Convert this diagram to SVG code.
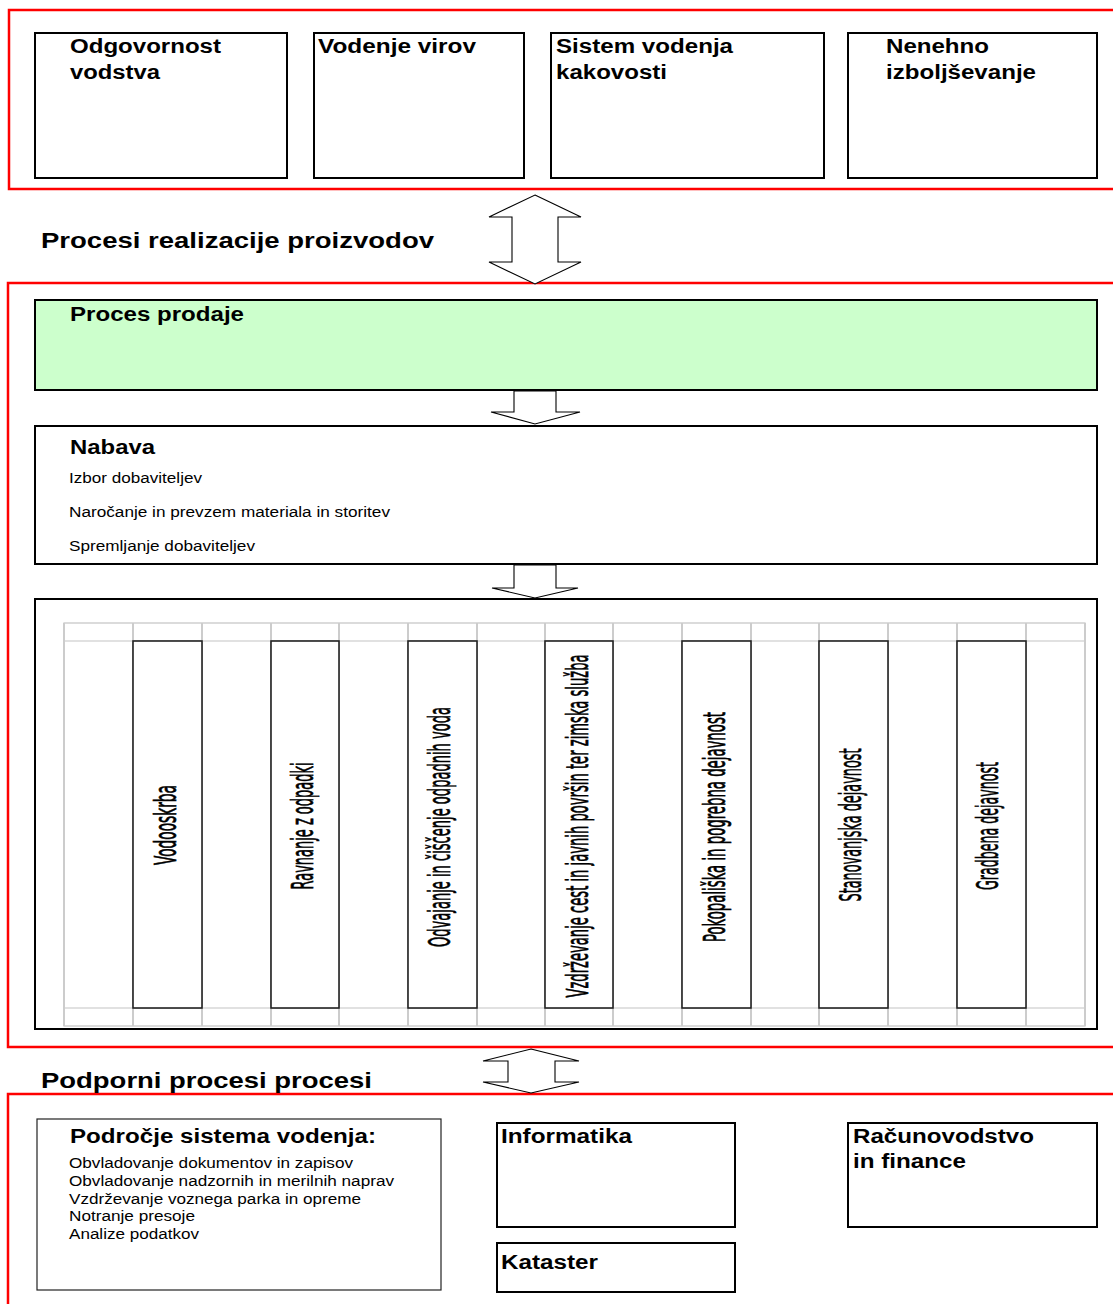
<svg xmlns="http://www.w3.org/2000/svg" width="1113" height="1304" viewBox="0 0 1113 1304">
<style>
.red{fill:none;stroke:#FF0000;stroke-width:2.5}
.box{fill:#FFFFFF;stroke:#000000;stroke-width:2}
.thin{fill:#FFFFFF;stroke:#222222;stroke-width:1.2}
.grid{fill:none;stroke:#CCCCCC;stroke-width:2}
.gridh{fill:none;stroke:#C4C4C4;stroke-width:1.2}
.col{fill:#FFFFFF;stroke:#222222;stroke-width:1.6}
.arrow{fill:#FFFFFF;stroke:#000000;stroke-width:1.1;stroke-linejoin:miter}
.b{font-family:"Liberation Sans",Arial,sans-serif;font-weight:bold;font-size:20px;fill:#000}
.h{font-family:"Liberation Sans",Arial,sans-serif;font-weight:bold;font-size:22px;fill:#000}
.r{font-family:"Liberation Sans",Arial,sans-serif;font-size:14px;fill:#000}
.v{font-family:"Liberation Sans Narrow","DejaVu Sans Condensed","Liberation Sans",sans-serif;font-stretch:condensed;font-size:31px;fill:#000;stroke:#000;stroke-width:0.7;text-anchor:middle}
</style>
<rect width="1113" height="1304" fill="#FFFFFF"/>

<g id="frames">
<path class="red" d="M1113,10 H9 V189 H1113"/>
<path class="red" d="M1113,283 H8 V1047 H1113"/>
<path class="red" d="M1113,1094 H8 V1304"/>
</g>

<g id="node-odgovornost">
<rect class="box" x="35" y="33" width="252" height="145"/>
<text class="b" x="70" y="53" textLength="151" lengthAdjust="spacingAndGlyphs">Odgovornost</text>
<text class="b" x="70" y="79" textLength="90" lengthAdjust="spacingAndGlyphs">vodstva</text>
</g>
<g id="node-vodenje-virov">
<rect class="box" x="314" y="33" width="210" height="145"/>
<text class="b" x="318" y="53" textLength="158" lengthAdjust="spacingAndGlyphs">Vodenje virov</text>
</g>
<g id="node-sistem">
<rect class="box" x="551" y="33" width="273" height="145"/>
<text class="b" x="556" y="53" textLength="177" lengthAdjust="spacingAndGlyphs">Sistem vodenja</text>
<text class="b" x="556" y="79" textLength="111" lengthAdjust="spacingAndGlyphs">kakovosti</text>
</g>
<g id="node-nenehno">
<rect class="box" x="848" y="33" width="249" height="145"/>
<text class="b" x="886" y="53" textLength="103" lengthAdjust="spacingAndGlyphs">Nenehno</text>
<text class="b" x="886" y="79" textLength="150" lengthAdjust="spacingAndGlyphs">izboljševanje</text>
</g>

<g id="label-realizacija">
<text class="h" x="41" y="248" textLength="393" lengthAdjust="spacingAndGlyphs">Procesi realizacije proizvodov</text>
</g>

<g id="node-prodaja">
<rect x="35" y="300" width="1062" height="90" fill="#CCFFCC" stroke="#000" stroke-width="2"/>
<text class="b" x="70" y="321" textLength="174" lengthAdjust="spacingAndGlyphs">Proces prodaje</text>
</g>

<g id="node-nabava">
<rect class="box" x="35" y="426" width="1062" height="138"/>
<text class="b" x="70" y="454" textLength="85" lengthAdjust="spacingAndGlyphs">Nabava</text>
<text class="r" x="69" y="483" textLength="133" lengthAdjust="spacingAndGlyphs">Izbor dobaviteljev</text>
<text class="r" x="69" y="517" textLength="321" lengthAdjust="spacingAndGlyphs">Naročanje in prevzem materiala in storitev</text>
<text class="r" x="69" y="551" textLength="186" lengthAdjust="spacingAndGlyphs">Spremljanje dobaviteljev</text>
</g>

<g id="node-dejavnosti">
<rect class="box" x="35" y="599" width="1062" height="430"/>
<rect class="gridh" x="64" y="623" width="1021" height="403"/>
<path class="gridh" d="M64,641 H1085 M64,1008 H1085"/>
<path class="grid" d="M64,623 V1026 M133,623 V1026 M202,623 V1026 M271,623 V1026 M339,623 V1026 M408,623 V1026 M477,623 V1026 M545,623 V1026 M613,623 V1026 M682,623 V1026 M751,623 V1026 M819,623 V1026 M888,623 V1026 M957,623 V1026 M1026,623 V1026 M1085,623 V1026"/>
</g>
<g id="node-vodooskrba">
<rect class="col" x="133" y="641" width="69" height="367"/>
<text class="v" transform="translate(176,825) rotate(-90)" textLength="80" lengthAdjust="spacingAndGlyphs">Vodooskrba</text>
</g>
<g id="node-odpadki">
<rect class="col" x="271" y="641" width="68" height="367"/>
<text class="v" transform="translate(313,826) rotate(-90)" textLength="127" lengthAdjust="spacingAndGlyphs">Ravnanje z odpadki</text>
</g>
<g id="node-odpadne-vode">
<rect class="col" x="408" y="641" width="69" height="367"/>
<text class="v" transform="translate(450,827) rotate(-90)" textLength="240" lengthAdjust="spacingAndGlyphs">Odvajanje in čiščenje odpadnih voda</text>
</g>
<g id="node-ceste">
<rect class="col" x="545" y="641" width="68" height="367"/>
<text class="v" transform="translate(588,826) rotate(-90)" textLength="343" lengthAdjust="spacingAndGlyphs">Vzdrževanje cest in javnih površin ter zimska služba</text>
</g>
<g id="node-pokopaliska">
<rect class="col" x="682" y="641" width="69" height="367"/>
<text class="v" transform="translate(725,827) rotate(-90)" textLength="230" lengthAdjust="spacingAndGlyphs">Pokopališka in pogrebna dejavnost</text>
</g>
<g id="node-stanovanjska">
<rect class="col" x="819" y="641" width="69" height="367"/>
<text class="v" transform="translate(861,825) rotate(-90)" textLength="153" lengthAdjust="spacingAndGlyphs">Stanovanjska dejavnost</text>
</g>
<g id="node-gradbena">
<rect class="col" x="957" y="641" width="69" height="367"/>
<text class="v" transform="translate(998,826) rotate(-90)" textLength="128" lengthAdjust="spacingAndGlyphs">Gradbena dejavnost</text>
</g>

<g id="label-podporni">
<text class="h" x="41" y="1088" textLength="331" lengthAdjust="spacingAndGlyphs">Podporni procesi procesi</text>
</g>

<g id="node-podrocje">
<rect class="thin" x="37" y="1119" width="404" height="171"/>
<text class="b" x="70" y="1143" textLength="306" lengthAdjust="spacingAndGlyphs">Področje sistema vodenja:</text>
<text class="r" x="69" y="1168" textLength="284" lengthAdjust="spacingAndGlyphs">Obvladovanje dokumentov in zapisov</text>
<text class="r" x="69" y="1186" textLength="325" lengthAdjust="spacingAndGlyphs">Obvladovanje nadzornih in merilnih naprav</text>
<text class="r" x="69" y="1204" textLength="292" lengthAdjust="spacingAndGlyphs">Vzdrževanje voznega parka in opreme</text>
<text class="r" x="69" y="1221" textLength="126" lengthAdjust="spacingAndGlyphs">Notranje presoje</text>
<text class="r" x="69" y="1239" textLength="130" lengthAdjust="spacingAndGlyphs">Analize podatkov</text>
</g>
<g id="node-informatika">
<rect class="box" x="497" y="1123" width="238" height="104"/>
<text class="b" x="501" y="1143" textLength="131" lengthAdjust="spacingAndGlyphs">Informatika</text>
</g>
<g id="node-kataster">
<rect class="box" x="497" y="1243" width="238" height="49"/>
<text class="b" x="501" y="1269" textLength="97" lengthAdjust="spacingAndGlyphs">Kataster</text>
</g>
<g id="node-racunovodstvo">
<rect class="box" x="848" y="1123" width="249" height="104"/>
<text class="b" x="853" y="1143" textLength="181" lengthAdjust="spacingAndGlyphs">Računovodstvo</text>
<text class="b" x="853" y="1168" textLength="113" lengthAdjust="spacingAndGlyphs">in finance</text>
</g>

<g id="connectors">
<path class="arrow" d="M535,195 L581,217 L558,217 L558,262 L581,262 L535,284 L489,262 L512,262 L512,217 L489,217 Z"/>
<path class="arrow" d="M514,391 L514,412 L491,412 L535,424 L580,412 L556,412 L556,391 Z"/>
<path class="arrow" d="M514,565 L514,588 L492,588 L535,598 L578,588 L556,588 L556,565 Z"/>
<path class="arrow" d="M531,1049 L579,1061 L555,1061 L555,1082 L579,1082 L531,1093 L483,1082 L508,1082 L508,1061 L483,1061 Z"/>
</g>
</svg>
